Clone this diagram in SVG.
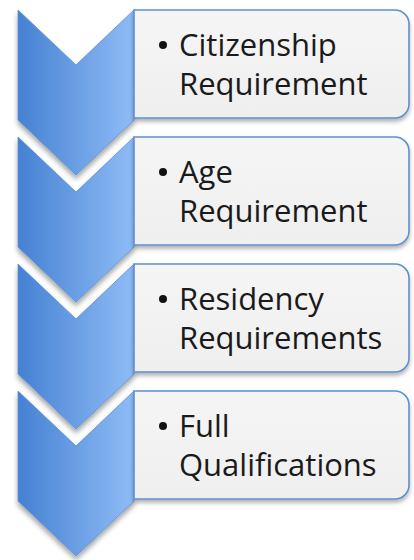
<svg xmlns="http://www.w3.org/2000/svg" width="414" height="560" viewBox="0 0 414 560">
  <defs>
    <linearGradient id="chevFill" x1="0" y1="0" x2="1" y2="0">
      <stop offset="0" stop-color="#4581d2"/>
      <stop offset="1" stop-color="#8fbcf6"/>
    </linearGradient>
    <linearGradient id="boxFill" x1="0" y1="0" x2="0" y2="1">
      <stop offset="0" stop-color="#f5f5f5"/>
      <stop offset="1" stop-color="#efefef"/>
    </linearGradient>
    <filter id="shadow" x="-20%" y="-20%" width="140%" height="150%">
      <feDropShadow dx="0" dy="4" stdDeviation="2.5" flood-color="#000" flood-opacity="0.35"/>
    </filter>
    <filter id="boxShadow" x="-10%" y="-20%" width="120%" height="150%">
      <feDropShadow dx="0" dy="3" stdDeviation="2" flood-color="#000" flood-opacity="0.3"/>
    </filter>
    <!-- chevron and box shapes, positioned by translate -->
    <path id="chev" d="M18,0 L76,55 L134,0 L134,110 L76,165 L18,110 Z"/>
    <path id="box" d="M134,0 H395 A14,14 0 0 1 409,14 V94 A14,14 0 0 1 395,108 H134 Z"/>
  </defs>
  <style>
    .chev { fill: url(#chevFill); stroke: #5b8fd6; stroke-width: 0.8; filter: url(#shadow); }
    .box { fill: url(#boxFill); stroke: #5f8fcf; stroke-width: 1.6; filter: url(#boxShadow); }
    .label { font-family: "Open Sans", "Liberation Sans", sans-serif; font-size: 31px; fill: #1a1a1a; }
    .dot { fill: #111; }
  </style>
  <rect width="414" height="560" fill="#ffffff"/>

  <g id="step1" transform="translate(0,10)">
    <use href="#chev" class="chev"/>
    <use href="#box" class="box"/>
    <circle class="dot" cx="163" cy="35" r="4"/>
    <text class="label" x="179" y="46">Citizenship</text>
    <text class="label" x="179" y="85">Requirement</text>
  </g>

  <g id="step2" transform="translate(0,137)">
    <use href="#chev" class="chev"/>
    <use href="#box" class="box"/>
    <circle class="dot" cx="163" cy="35" r="4"/>
    <text class="label" x="179" y="46">Age</text>
    <text class="label" x="179" y="85">Requirement</text>
  </g>

  <g id="step3" transform="translate(0,264)">
    <use href="#chev" class="chev"/>
    <use href="#box" class="box"/>
    <circle class="dot" cx="163" cy="35" r="4"/>
    <text class="label" x="179" y="46">Residency</text>
    <text class="label" x="179" y="85">Requirements</text>
  </g>

  <g id="step4" transform="translate(0,391)">
    <use href="#chev" class="chev"/>
    <use href="#box" class="box"/>
    <circle class="dot" cx="163" cy="35" r="4"/>
    <text class="label" x="179" y="46">Full</text>
    <text class="label" x="179" y="85">Qualifications</text>
  </g>

  <g id="connectors"/>
</svg>
